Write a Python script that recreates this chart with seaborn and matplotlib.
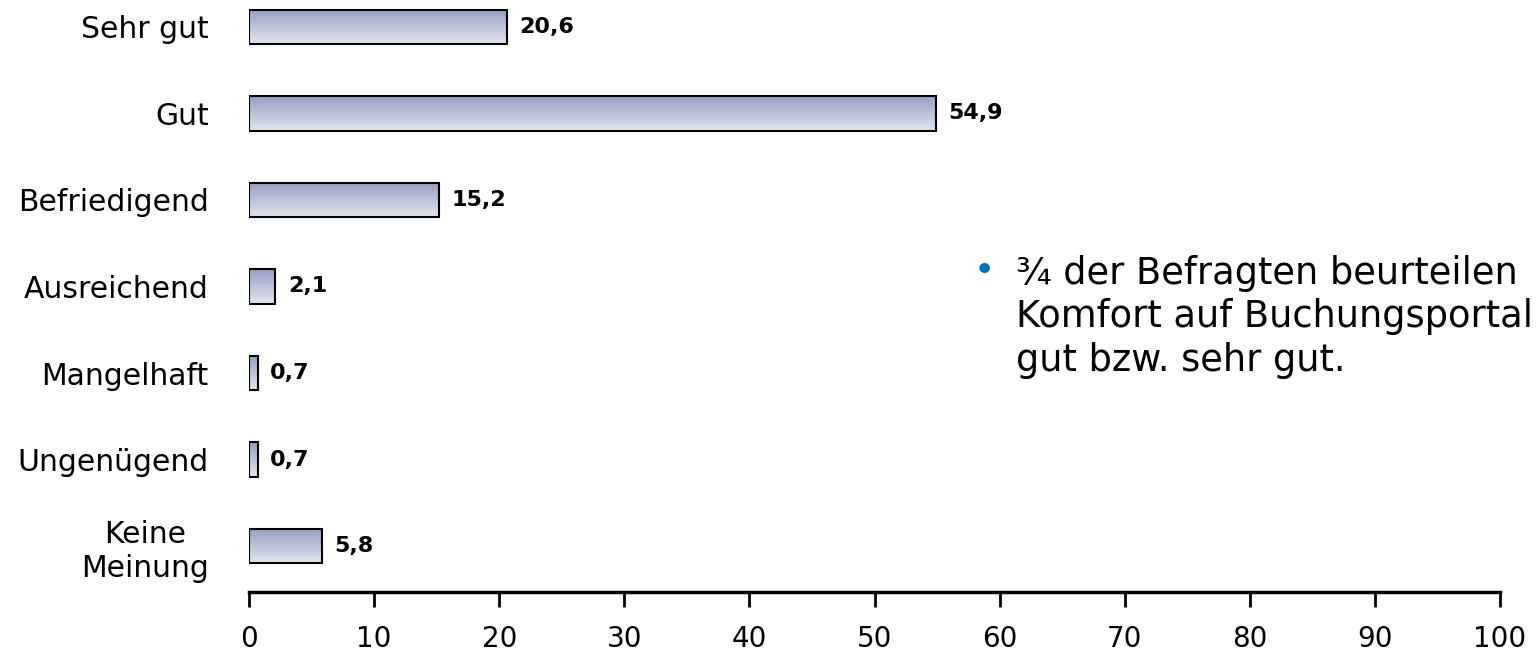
import numpy as np
import pandas as pd
import seaborn as sns
import matplotlib.pyplot as plt

categories = ["Sehr gut", "Gut", "Befriedigend", "Ausreichend", "Mangelhaft",
              "Ungenügend", "Keine\nMeinung"]
values = [20.6, 54.9, 15.2, 2.1, 0.7, 0.7, 5.8]
xticks = [0, 10, 20, 30, 40, 50, 60, 70, 80, 90, 100]
note = "¾ der Befragten beurteilen\nKomfort auf Buchungsportal\ngut bzw. sehr gut."

df = pd.DataFrame({"Bewertung": categories, "Anteil": values})

sns.set_style("white")
plt.rcParams['font.family'] = ['DejaVu Sans']

fig = plt.figure(figsize=(15.37, 6.55), dpi=100)
ax = fig.add_axes([249 / 1537, 63 / 655, 1251 / 1537, 592 / 655])

sns.barplot(data=df, x="Anteil", y="Bewertung", orient="h", width=0.4,
            color="white", edgecolor="black", linewidth=1.5, ax=ax)

# Farbverlauf in die Balken legen
grad = np.linspace(0, 1, 64).reshape(-1, 1)
cmap = plt.matplotlib.colors.LinearSegmentedColormap.from_list(
    "bar", ["#959fc2", "#e3e5ef"])
for p in list(ax.patches):
    bb = p.get_bbox()
    img = ax.imshow(grad, extent=[bb.x0, bb.x1, bb.y1, bb.y0], cmap=cmap,
                    aspect="auto", origin="upper", zorder=1)
    img.set_clip_path(p)
    p.set_facecolor("none")
    p.set_zorder(2)

for i, v in enumerate(values):
    ax.annotate(f"{v:.1f}".replace(".", ","), xy=(v, i), xytext=(9, 0),
                textcoords="offset points", va="center", ha="left",
                fontsize=16, fontweight="bold", color="black")

ax.set_xlim(0, 100)
ax.set_ylim(6.53, -0.31)
ax.set_xticks(xticks)
ax.set_xlabel("")
ax.set_ylabel("")
for s in ["top", "right", "left"]:
    ax.spines[s].set_visible(False)
ax.spines["bottom"].set_linewidth(2.5)
ax.spines["bottom"].set_color("black")
ax.tick_params(axis="x", direction="out", length=11, width=2, pad=13,
               labelsize=20, colors="black", bottom=True)
ax.tick_params(axis="y", length=0, pad=29, labelsize=21.5, labelcolor="black")
for lab in ax.get_yticklabels():
    lab.set_multialignment("center")

fig.text(984 / 1537, 1 - 271 / 655, "•", color="#0070c0", fontsize=26,
         va="center", ha="center")
fig.text(1016 / 1537, 1 - 255 / 655, note, fontsize=26.5, va="top", ha="left",
         linespacing=1.22, color="black")

fig.savefig("out.png", dpi=100)
